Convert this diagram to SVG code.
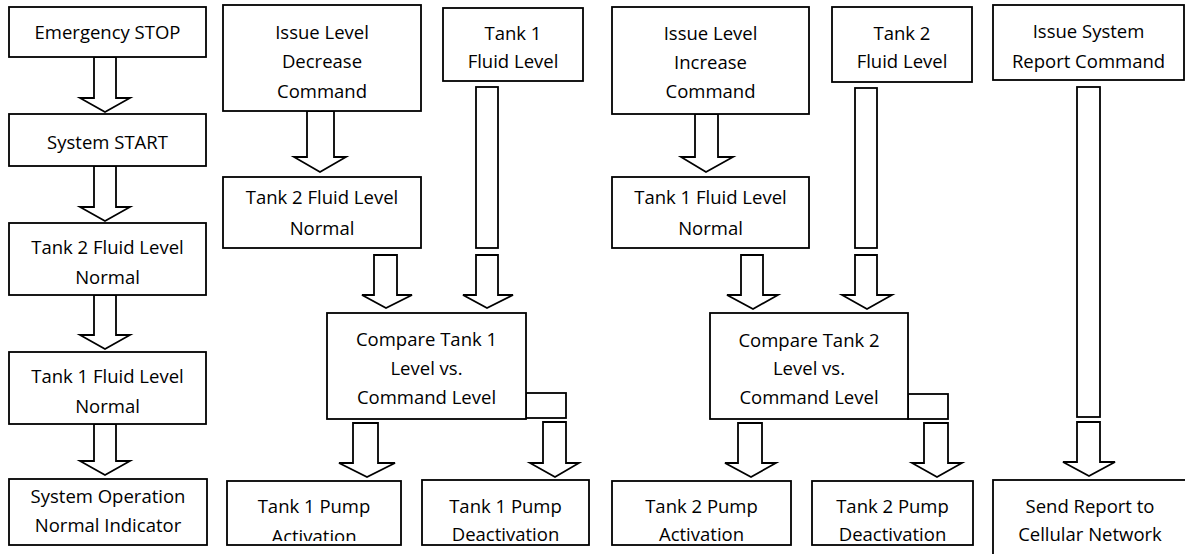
<svg xmlns="http://www.w3.org/2000/svg" width="1185" height="554" viewBox="0 0 1185 554">
<style>
.box{fill:#fff;stroke:#000;stroke-width:1.8}
.arr{fill:#fff;stroke:#000;stroke-width:1.8;stroke-linejoin:miter}
text{font-family:"Open Sans","Liberation Sans",sans-serif;font-size:18.5px;fill:#000;text-anchor:middle}
</style>
<defs>
<clipPath id="clipAct"><rect x="227" y="470" width="175" height="71"/></clipPath>
</defs>
<rect width="1185" height="554" fill="#fff"/>
<g id="connectors">
<polygon class="arr" points="94,57 116,57 116,98 130,98 105,112 80,98 94,98"/>
<polygon class="arr" points="94,166 116,166 116,207 130,207 105,221 80,207 94,207"/>
<polygon class="arr" points="94,295 116,295 116,335 130,335 105,349 80,335 94,335"/>
<polygon class="arr" points="94,424 116,424 116,461 130,461 105,475 80,461 94,461"/>
<polygon class="arr" points="307,111 334,111 334,157 346,157 320,172 294,157 307,157"/>
<rect class="arr" x="476" y="87" width="22" height="161"/>
<polygon class="arr" points="374,255 397,255 397,295 412,295 386,308 362,295 374,295"/>
<polygon class="arr" points="476,255 498,255 498,295 513,295 487,308 463,295 476,295"/>
<rect class="arr" x="526" y="393" width="40" height="25"/>
<polygon class="arr" points="353,423 378,423 378,463 395,463 367,477 339,463 353,463"/>
<polygon class="arr" points="543,422 566,422 566,463 579,463 555,477 530,463 543,463"/>
<polygon class="arr" points="695,114 718,114 718,157 733,157 706,172 681,157 695,157"/>
<rect class="arr" x="855" y="88" width="22" height="160"/>
<polygon class="arr" points="741,255 763,255 763,295 778,295 753,309 727,295 741,295"/>
<polygon class="arr" points="855,255 877,255 877,295 892,295 867,309 842,295 855,295"/>
<rect class="arr" x="908" y="394" width="40" height="25"/>
<polygon class="arr" points="738,423 762,423 762,463 776,463 751,477 725,463 738,463"/>
<polygon class="arr" points="924,423 948,423 948,463 962,463 937,477 912,463 924,463"/>
<rect class="arr" x="1077" y="87" width="23" height="330"/>
<polygon class="arr" points="1077,422 1100,422 1100,462 1115,462 1089,476 1063,462 1077,462"/>
</g>
<g id="emergency-stop"><rect class="box" x="9" y="7" width="197" height="50"/><text x="107.5" y="39">Emergency STOP</text></g>
<g id="system-start"><rect class="box" x="9" y="114" width="197" height="52"/><text x="107.5" y="149">System START</text></g>
<g id="tank2-normal-a"><rect class="box" x="9" y="223" width="197" height="72"/><text x="107.5" y="254">Tank 2 Fluid Level</text><text x="107.5" y="284">Normal</text></g>
<g id="tank1-normal-a"><rect class="box" x="9" y="352" width="197" height="72"/><text x="107.5" y="383">Tank 1 Fluid Level</text><text x="107.5" y="413">Normal</text></g>
<g id="system-operation"><rect class="box" x="9" y="479" width="198" height="66"/><text x="108" y="503">System Operation</text><text x="108" y="532">Normal Indicator</text></g>
<g id="issue-decrease"><rect class="box" x="223" y="5" width="198" height="106"/><text x="322" y="39">Issue Level</text><text x="322" y="68">Decrease</text><text x="322" y="98">Command</text></g>
<g id="tank1-level"><rect class="box" x="443" y="8" width="140" height="73"/><text x="513" y="40">Tank 1</text><text x="513" y="68">Fluid Level</text></g>
<g id="tank2-normal-b"><rect class="box" x="223" y="177" width="198" height="71"/><text x="322" y="204">Tank 2 Fluid Level</text><text x="322" y="235">Normal</text></g>
<g id="compare-tank1"><rect class="box" x="327" y="313" width="199" height="106"/><text x="426.5" y="346">Compare Tank 1</text><text x="426.5" y="375">Level vs.</text><text x="426.5" y="404">Command Level</text></g>
<g id="tank1-pump-act"><rect class="box" x="227" y="481" width="174" height="64"/><text x="314" y="513">Tank 1 Pump</text><text x="314" y="543" clip-path="url(#clipAct)">Activation</text></g>
<g id="tank1-pump-deact"><rect class="box" x="422" y="480" width="167" height="65"/><text x="505.5" y="513">Tank 1 Pump</text><text x="505.5" y="541">Deactivation</text></g>
<g id="issue-increase"><rect class="box" x="612" y="7" width="197" height="107"/><text x="710.5" y="40">Issue Level</text><text x="710.5" y="69">Increase</text><text x="710.5" y="98">Command</text></g>
<g id="tank2-level"><rect class="box" x="832" y="7" width="140" height="75"/><text x="902" y="40">Tank 2</text><text x="902" y="68">Fluid Level</text></g>
<g id="tank1-normal-b"><rect class="box" x="612" y="177" width="197" height="71"/><text x="710.5" y="204">Tank 1 Fluid Level</text><text x="710.5" y="235">Normal</text></g>
<g id="compare-tank2"><rect class="box" x="710" y="313" width="198" height="106"/><text x="809" y="347">Compare Tank 2</text><text x="809" y="375">Level vs.</text><text x="809" y="404">Command Level</text></g>
<g id="tank2-pump-act"><rect class="box" x="612" y="481" width="179" height="64"/><text x="701.5" y="513">Tank 2 Pump</text><text x="701.5" y="541">Activation</text></g>
<g id="tank2-pump-deact"><rect class="box" x="812" y="481" width="161" height="64"/><text x="892.5" y="513">Tank 2 Pump</text><text x="892.5" y="541">Deactivation</text></g>
<g id="issue-report"><rect class="box" x="993" y="5" width="191" height="75"/><text x="1088.5" y="38">Issue System</text><text x="1088.5" y="68">Report Command</text></g>
<g id="send-report"><rect class="box" x="993" y="480" width="200" height="80"/><text x="1090" y="513">Send Report to</text><text x="1090" y="541">Cellular Network</text></g>
</svg>
